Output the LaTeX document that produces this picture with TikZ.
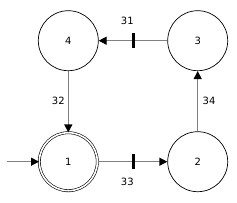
\documentclass[tikz,border=0pt]{standalone}
\usepackage{fontspec}
\setmainfont{DejaVu Sans}
\usetikzlibrary{arrows.meta}
\begin{document}
\begin{tikzpicture}[x=1pt,y=-1pt,
  state/.style={circle,draw=black,line width=0.7pt,minimum size=60pt,inner sep=0pt,font=\fontsize{10}{11}\selectfont},
  accept/.style={state,double=white,double distance=1.6pt,line width=0.6pt,minimum size=58pt},
  trans/.style={draw=black!50,line width=1.3pt,-{Triangle[length=8pt,width=8pt,fill=black,color=black]}},
  lbl/.style={font=\fontsize{10}{11}\selectfont,inner sep=0pt},
  tick/.style={draw=black,line width=2.4pt}]
\useasboundingbox (0,0) rectangle (237,202);
\node[state] (n4) at (68.3,40.7) {4};
\node[state] (n3) at (197.7,40.7) {3};
\node[accept] (n1) at (68.3,161.7) {1};
\node[state] (n2) at (197.7,161.7) {2};
\coordinate (start) at (7.3,161.7);
\draw[trans] (start) -- (n1);
\draw[trans] (n3) -- (n4);
\draw[trans] (n4) -- (n1);
\draw[trans] (n1) -- (n2);
\draw[trans] (n2) -- (n3);
\coordinate (t1) at (133.3,40.7);
\coordinate (t2) at (133.3,161.7);
\draw[tick] ([yshift=-7.5pt]t1) -- ([yshift=7.5pt]t1);
\draw[tick] ([yshift=-7.5pt]t2) -- ([yshift=7.5pt]t2);
\node[lbl] (l31) at (127.3,20.7) {31};
\node[lbl] (l32) at (58.3,100.7) {32};
\node[lbl] (l34) at (209,100.7) {34};
\node[lbl] (l33) at (127.3,181.7) {33};
\end{tikzpicture}
\end{document}
